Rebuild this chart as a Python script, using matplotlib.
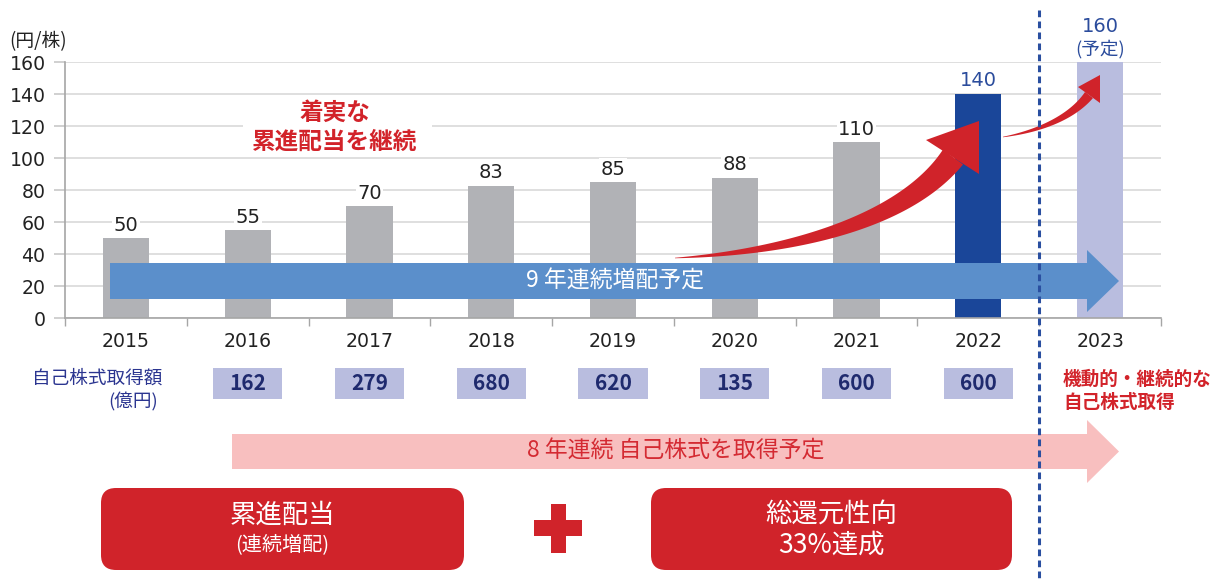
import numpy as np
import matplotlib
matplotlib.use("Agg")
import matplotlib.pyplot as plt
from matplotlib.patches import Polygon, Rectangle, FancyBboxPatch

plt.rcParams['font.family'] = ['Noto Sans CJK JP', 'DejaVu Sans']
NUM_FONT = ['DejaVu Sans']

# ---- data ----
years = ["2015", "2016", "2017", "2018", "2019", "2020", "2021", "2022", "2023"]
dividends = [50, 55, 70, 83, 85, 88, 110, 140, 160]
buyback_years = ["2016", "2017", "2018", "2019", "2020", "2021", "2022"]
buyback_amounts = [162, 279, 680, 620, 135, 600, 600]

GRAY = "#b1b2b6"
DARK_BLUE = "#1a4699"
LIGHT_BLUE = "#b9bddf"
RED = "#d0232a"
LABEL_BLUE = "#2b4c9c"
NAVY = "#1f2a6e"

bar_colors = [GRAY] * 7 + [DARK_BLUE, LIGHT_BLUE]

W, H = 1211, 584
fig = plt.figure(figsize=(W / 100, H / 100), dpi=100)
ax = fig.add_axes([65 / W, 1 - 318.3 / H, (1161 - 65) / W, (318.3 - 62.3) / H])

x = np.arange(len(years))
ax.bar(x, dividends, width=0.38, color=bar_colors, zorder=2)
ax.set_xlim(-0.5, len(years) - 0.5)
ax.set_ylim(0, 160)
ax.set_yticks(range(0, 161, 20))
ax.yaxis.grid(True, color="#d9d9d9", linewidth=1.2, zorder=0)
ax.tick_params(axis="y", length=8, width=1.2, color="#c8c8c8", pad=6,
               labelsize=13.6, labelcolor="#222222")
ax.set_xticks(x)
ax.set_xticklabels(years)
ax.set_xticks(np.arange(-0.5, len(years)), minor=True)
ax.tick_params(axis="x", which="major", length=0, pad=10, labelsize=13.6,
               labelcolor="#222222")
ax.tick_params(axis="x", which="minor", length=6, width=1, color="#a6a6a6")
for lab in ax.get_xticklabels() + ax.get_yticklabels():
    lab.set_family(NUM_FONT)
for s in ["top", "right"]:
    ax.spines[s].set_visible(False)
ax.spines["left"].set_color("#a6a6a6")
ax.spines["bottom"].set_color("#a6a6a6")
ax.spines["left"].set_linewidth(1.2)
ax.spines["bottom"].set_linewidth(1.2)

# value labels
for i, v in enumerate(dividends):
    if i < 7:
        ax.annotate(str(v), (i, v), xytext=(0, 2.5), textcoords="offset points",
                    ha="center", va="bottom", fontsize=14, color="#222222",
                    family=NUM_FONT,
                    bbox=dict(facecolor="white", edgecolor="none", pad=1),
                    zorder=3)
ax.annotate(str(dividends[7]), (7, dividends[7]), xytext=(0, 3),
            textcoords="offset points", ha="center", va="bottom",
            fontsize=14, color=LABEL_BLUE, family=NUM_FONT, zorder=3)
ax.annotate(str(dividends[8]), (8, dividends[8]), xytext=(0, 19),
            textcoords="offset points", ha="center", va="bottom",
            fontsize=14, color=LABEL_BLUE, family=NUM_FONT,
            annotation_clip=False)
ax.annotate("(予定)", (8, dividends[8]), xytext=(0, 3),
            textcoords="offset points", ha="center", va="bottom",
            fontsize=13.4, color=LABEL_BLUE, annotation_clip=False)

# buyback boxes under each year
for yr, amt in zip(buyback_years, buyback_amounts):
    i = years.index(yr)
    ax.add_patch(Rectangle((i - 0.285, -50.6), 0.57, -31.0 + 50.6,
                           facecolor=LIGHT_BLUE, edgecolor="none",
                           clip_on=False))
    ax.text(i, -41.0, str(amt), ha="center", va="center", fontsize=15,
            fontweight="bold", color=NAVY, clip_on=False)

# ---- overlay in pixel coordinates for decorations ----
ov = fig.add_axes([0, 0, 1, 1], zorder=5)
ov.set_xlim(0, W)
ov.set_ylim(H, 0)
ov.axis("off")
ov.patch.set_alpha(0)

ov.text(9, 42, "(円/株)", ha="left", va="center", fontsize=13.5, color="#222222")

# pink arrow
ov.add_patch(Polygon([(232, 434), (1087, 434), (1087, 420), (1119, 451.5),
                      (1087, 483), (1087, 469), (232, 469)],
                     closed=True, facecolor="#f8bfbf", edgecolor="none"))
ov.text(676, 451, "8 年連続 自己株式を取得予定", ha="center", va="center",
        fontsize=16.5, color="#d42a32")

# dotted divider
ov.plot([1039, 1039], [10, 580], color="#2a4fa0", lw=2.2,
        linestyle=(0, (2.2, 1.4)))

# blue arrow
ov.add_patch(Polygon([(110, 263), (1087, 263), (1087, 250), (1119, 281),
                      (1087, 312), (1087, 299), (110, 299)],
                     closed=True, facecolor="#5b8fcb", edgecolor="none"))
ov.text(615, 281, "9 年連続増配予定", ha="center", va="center",
        fontsize=16.5, color="white")


def curved_arrow(p0, p1, p2, p3, w0, w1, head):
    t = np.linspace(0, 1, 80)[:, None]
    P = [np.array(p) for p in (p0, p1, p2, p3)]
    c = ((1 - t) ** 3) * P[0] + 3 * ((1 - t) ** 2) * t * P[1] \
        + 3 * (1 - t) * t ** 2 * P[2] + t ** 3 * P[3]
    d = 3 * ((1 - t) ** 2) * (P[1] - P[0]) + 6 * (1 - t) * t * (P[2] - P[1]) \
        + 3 * t ** 2 * (P[3] - P[2])
    n = np.column_stack([-d[:, 1], d[:, 0]])
    n /= np.linalg.norm(n, axis=1)[:, None]
    w = (w0 + (w1 - w0) * t) / 2
    upper = c + n * w
    lower = c - n * w
    pts = np.vstack([upper, lower[::-1]])
    ov.add_patch(Polygon(pts, closed=True, facecolor=RED, edgecolor="none"))
    ov.add_patch(Polygon(head, closed=True, facecolor=RED, edgecolor="none"))


curved_arrow((675, 258), (790, 252), (905, 222), (953, 157), 0.5, 25,
             [(926, 140), (979, 121), (979, 174)])
curved_arrow((1003, 137), (1040, 131), (1072, 117), (1089, 95), 0.5, 10,
             [(1078, 87), (1100, 75), (1100, 103)])

# message on the chart
ov.add_patch(Rectangle((243, 101), 189, 53, facecolor="white",
                       edgecolor="none"))
for txt, yy in [("着実な", 113), ("累進配当を継続", 142)]:
    ov.text(335, yy, txt, ha="center", va="center", fontsize=17,
            fontweight="bold", color="#d2232a")

# buyback row label
ov.text(162, 379, "自己株式取得額", ha="right", va="center", fontsize=13.4,
        color="#2b3590")
ov.text(158, 402, "(億円)", ha="right", va="center", fontsize=13.4,
        color="#2b3590")
ov.text(1063, 379, "機動的・継続的な", ha="left", va="center", fontsize=13.4,
        fontweight="bold", color="#d2232a")
ov.text(1063, 402, "自己株式取得", ha="left", va="center", fontsize=13.4,
        fontweight="bold", color="#d2232a")

# bottom red boxes
for (x0, x1) in [(101, 464), (651, 1012)]:
    ov.add_patch(FancyBboxPatch((x0 + 15, 488 + 15), x1 - x0 - 30, 82 - 30,
                                boxstyle="round,pad=15", facecolor=RED,
                                edgecolor="none"))
ov.text(282, 515, "累進配当", ha="center", va="center", fontsize=19,
        color="white")
ov.text(282, 546, "(連続増配)", ha="center", va="center", fontsize=14.5,
        color="white")
ov.text(831, 514, "総還元性向", ha="center", va="center", fontsize=19,
        color="white")
ov.text(831, 545, "33%達成", ha="center", va="center", fontsize=19,
        color="white")

# plus sign
ov.add_patch(Rectangle((534, 520), 48, 16, facecolor=RED, edgecolor="none"))
ov.add_patch(Rectangle((550.5, 504), 15, 49, facecolor=RED, edgecolor="none"))

fig.savefig("out.png", dpi=100)
